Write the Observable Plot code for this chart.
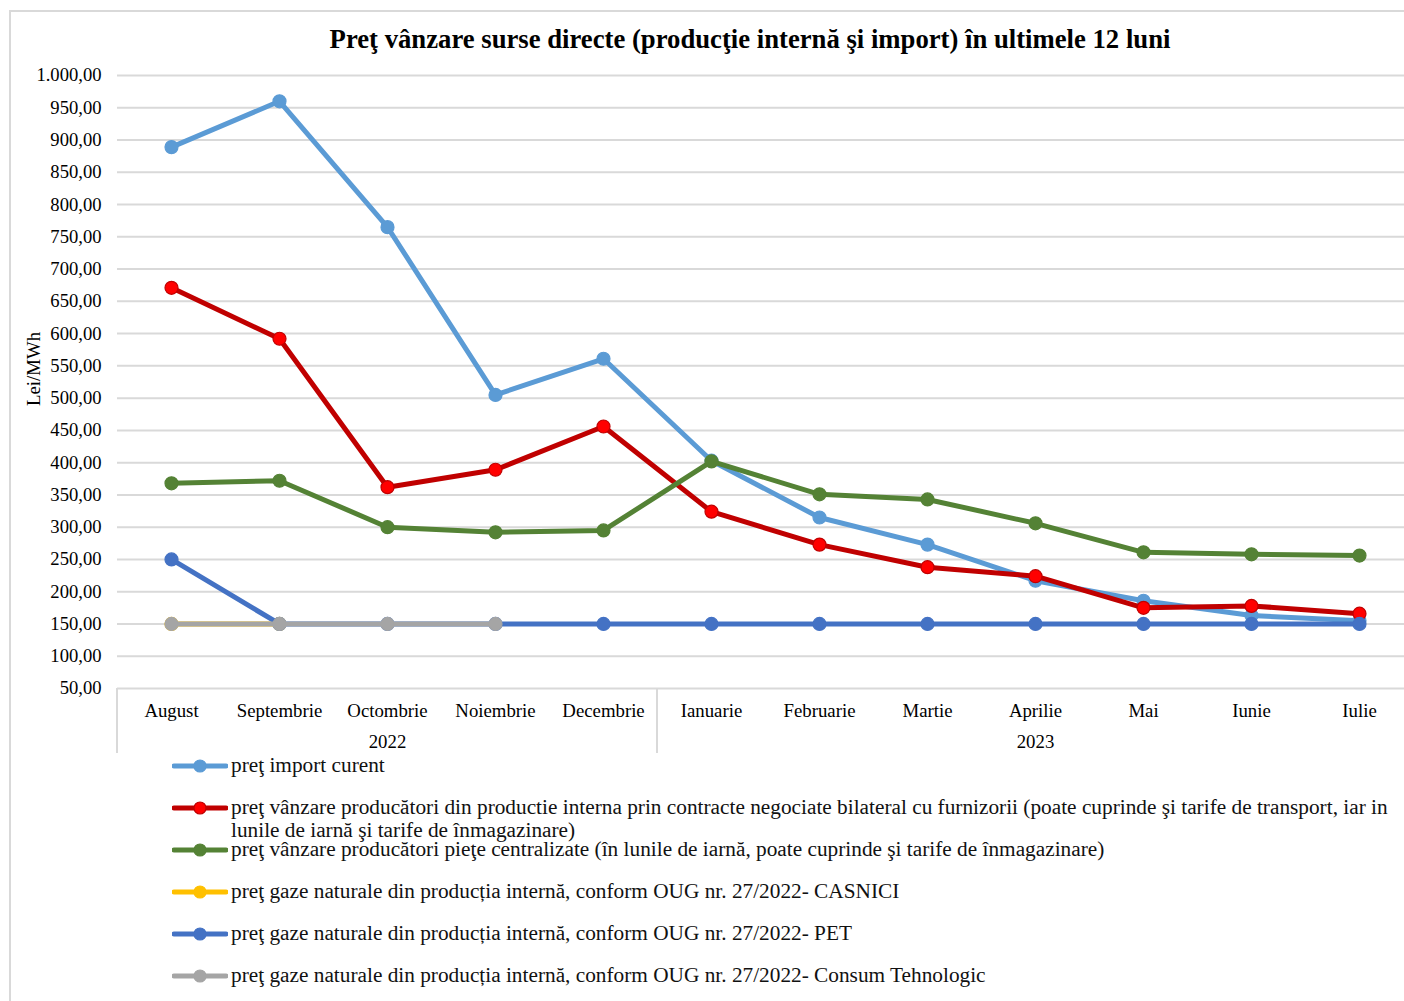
<!DOCTYPE html>
<html>
<head>
<meta charset="utf-8">
<script src="https://cdn.jsdelivr.net/npm/d3@7"></script>
<script src="https://cdn.jsdelivr.net/npm/@observablehq/plot@0.6"></script>
<style>
  html, body { margin: 0; padding: 0; background: #fff; }
  body { position: relative; width: 1404px; height: 1001px; overflow: hidden; font-family: "Liberation Serif", "Times New Roman", serif; }
  #frame { position: absolute; left: 9px; top: 10px; width: 1420px; height: 1010px; border: 2px solid #d9d9d9; box-sizing: border-box; }
  #title { position: absolute; top: 24px; left: 96px; width: 1308px; text-align: center; font-weight: bold; font-size: 26.7px; line-height: 30px; color: #000; }
  #chart { position: absolute; top: 60px; left: 0; }
  #legend { position: absolute; top: 754px; left: 172px; width: 1225px; }
  .row { display: flex; align-items: flex-start; height: 42px; }
  .row svg { flex: none; margin-top: 3px; }
  .row span { font-size: 21.3px; line-height: 23px; color: #111; margin-left: 3px; }
</style>
</head>
<body>
<div id="frame"></div>
<div id="title">Preţ vânzare surse directe (producţie internă şi import) în ultimele 12 luni</div>
<div id="chart"></div>
<div id="legend"></div>
<script>
// ---- data ----
const months = ["August","Septembrie","Octombrie","Noiembrie","Decembrie","Ianuarie","Februarie","Martie","Aprilie","Mai","Iunie","Iulie"];
const years = ["2022","2023"];
const monthsPerYear = [5, 7];

const importCurent    = [889, 960, 765, 505, 561, 403, 315, 273, 217, 186, 163, 155];
const bilateral       = [671, 592, 362, 389, 456, 324, 273, 238, 224, 175, 178, 166];
const centralizate    = [368, 372, 300, 292, 295, 402, 351, 343, 306, 261, 258, 256];
const casnici         = [150, 150, null, null, null, null, null, null, null, null, null, null];
const pet             = [250, 150, 150, 150, 150, 150, 150, 150, 150, 150, 150, 150];
const consumTehnologic= [150, 150, 150, 150, null, null, null, null, null, null, null, null];

const seriesNames = [
  "preţ import curent",
  "preţ vânzare producători din productie interna prin contracte negociate bilateral cu furnizorii (poate cuprinde şi tarife de transport, iar in lunile de iarnă şi tarife de înmagazinare)",
  "preţ vânzare producători pieţe centralizate (în lunile de iarnă, poate cuprinde şi tarife de înmagazinare)",
  "preţ gaze naturale din producția internă, conform OUG nr. 27/2022- CASNICI",
  "preţ gaze naturale din producția internă, conform OUG nr. 27/2022- PET",
  "preţ gaze naturale din producția internă, conform OUG nr. 27/2022- Consum Tehnologic"
];
const seriesValues = [importCurent, bilateral, centralizate, casnici, pet, consumTehnologic];
const lineColors   = ["#5B9BD5", "#C00000", "#548235", "#FFC000", "#4472C4", "#A5A5A5"];
const markerFills  = ["#5B9BD5", "#FF0000", "#548235", "#FFC000", "#4472C4", "#A5A5A5"];
const yTicks = d3.range(50, 1001, 50);
const yLabel = "Lei/MWh";

// ---- build ----
const rows = [];
seriesNames.forEach((s, i) => seriesValues[i].forEach((v, j) => {
  if (v != null) rows.push({series: s, idx: i, month: months[j], value: v});
}));

const fmt = d3.formatLocale({decimal: ",", thousands: ".", grouping: [3], currency: ["", ""]}).format(",.2f");

const yearRows = [];
let start = 0;
years.forEach((y, k) => {
  const n = monthsPerYear[k];
  yearRows.push({year: y, mid: months[start + Math.floor(n / 2)], first: months[start], last: months[start + n - 1]});
  start += n;
});

const seriesMarks = [];
seriesNames.forEach((s, i) => {
  const d = rows.filter(r => r.idx === i);
  seriesMarks.push(Plot.line(d, {x: "month", y: "value", stroke: lineColors[i], strokeWidth: 5, strokeLinejoin: "round", strokeLinecap: "round"}));
  seriesMarks.push(Plot.dot(d, {x: "month", y: "value", r: 6.5, fill: markerFills[i], stroke: lineColors[i], strokeWidth: 1.2}));
});

// separators below category axis
function separators(index, scales, values, dims) {
  const g = d3.create("svg:g");
  const step = scales.x(months[1]) - scales.x(months[0]);
  const yTop = dims.height - dims.marginBottom;
  const yBot = dims.height - 2;
  const xs = [scales.x(months[0]) - step / 2];
  yearRows.forEach(r => xs.push(scales.x(r.last) + step / 2));
  xs.forEach(x => {
    if (x <= dims.width - 1) g.append("line").attr("x1", x).attr("x2", x).attr("y1", yTop).attr("y2", yBot)
      .attr("stroke", "#d9d9d9").attr("stroke-width", 2);
  });
  return g.node();
}

const chart = Plot.plot({
  width: 1404,
  height: 695,
  marginTop: 15,
  marginBottom: 67,
  marginLeft: 117,
  marginRight: 0,
  style: {fontFamily: "Liberation Serif, Times New Roman, serif", fontSize: "18.6px", color: "#000", background: "transparent"},
  x: {type: "point", domain: months, range: [171, 1359], padding: 0},
  y: {domain: [50, 1000]},
  marks: [
    Plot.gridY(yTicks, {stroke: "#d9d9d9", strokeOpacity: 1, strokeWidth: 2}),
    Plot.axisY(yTicks, {tickFormat: fmt, tickSize: 0, tickPadding: 16, fontSize: 18.6, label: null}),
    Plot.text([yLabel], {text: d => d, frameAnchor: "left", textAnchor: "middle", rotate: -90, dx: -84, dy: -13, fontSize: 18.8, fill: "#000"}),
    Plot.axisX({tickSize: 0, tickPadding: 15, fontSize: 18.8, label: null}),
    Plot.text(yearRows, {x: "mid", text: "year", frameAnchor: "bottom", dy: 59, fontSize: 18.8, fill: "#000"}),
    separators,
    ...seriesMarks
  ]
});
document.getElementById("chart").appendChild(chart);

// ---- legend ----
const legend = d3.select("#legend");
seriesNames.forEach((s, i) => {
  const row = legend.append("div").attr("class", "row");
  const sw = row.append("svg").attr("width", 56).attr("height", 18);
  sw.append("line").attr("x1", 2).attr("x2", 54).attr("y1", 9).attr("y2", 9)
    .attr("stroke", lineColors[i]).attr("stroke-width", 5).attr("stroke-linecap", "round");
  sw.append("circle").attr("cx", 28).attr("cy", 9).attr("r", 6)
    .attr("fill", markerFills[i]).attr("stroke", lineColors[i]).attr("stroke-width", 1.2);
  row.append("span").text(s);
});
</script>
</body>
</html>
